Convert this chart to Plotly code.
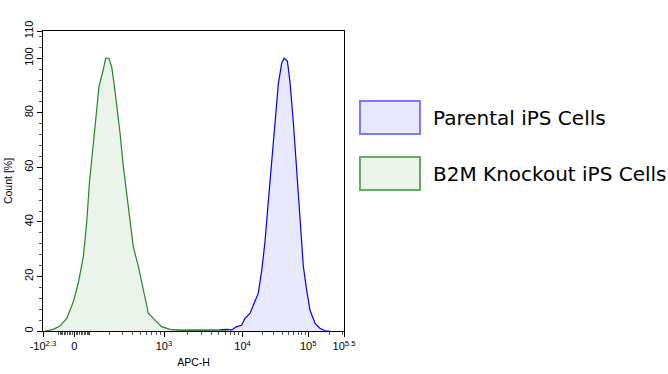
import numpy as np
import plotly.graph_objects as go

# Histogram data: display channel (0-1000 on biexponential APC-H scale) vs Count [%]
b2m_channel = [7, 34, 56, 79, 101, 117, 134, 145, 154, 162, 169, 178, 186, 200, 208, 219, 228,
               236, 247, 256, 267, 276, 287, 300, 317, 328, 339, 350, 372, 394, 422, 455, 522, 611]
b2m_count = [0, 0.6, 1.8, 4.6, 10.8, 17.5, 27.3, 39.5, 54.1, 62.7, 72.5, 81, 89.6, 95.7, 100, 100, 96.9,
             90.8, 81, 72.5, 60.2, 51.7, 41.9, 30.9, 23.6, 17.5, 11.4, 6.5, 4.0, 1.6, 0.6, 0.25, 0.1, 0]

parental_channel = [199, 355, 522, 588, 610, 627, 643, 660, 671, 688, 699, 715, 727, 737, 748, 760,
                    771, 782, 793, 801, 812, 821, 832, 843, 854, 865, 876, 887, 904, 920, 937, 953]
parental_count = [0.1, 0.2, 0.2, 0.4, 0.6, 0.4, 1.6, 2.1, 4.6, 6.5, 9.5, 13.8, 22.4, 32.2, 46.8, 62.7,
                  78.6, 90.8, 98.2, 100, 99, 90.8, 76.2, 57.8, 38.2, 23.6, 15, 7.7, 2.8, 1, 0.1, 0]

series_names = ["Parental iPS Cells", "B2M Knockout iPS Cells"]

# Biexponential axis definition: intensity anchors -> display channel
scale_values = [-10 ** 2.3, -100, 0, 100, 1000, 1e4, 1e5, 10 ** 5.5]
scale_channels = [0, 53, 103.7, 156, 402, 663, 881, 1000]

major_values = [-10 ** 2.3, 0, 1e3, 1e4, 1e5, 10 ** 5.5]
major_labels = ["-10<sup>2.3</sup>", "0", "10<sup>3</sup>", "10<sup>4</sup>", "10<sup>5</sup>", "10<sup>5.5</sup>"]
minor_values = ([-100 + 10 * i for i in range(10)] + [10 * i for i in range(1, 11)]
                + [k * 100 for k in range(2, 10)] + [k * 1000 for k in range(2, 10)]
                + [k * 10000 for k in range(2, 10)] + [2e5, 3e5])

y_ticks = [0, 20, 40, 60, 80, 100, 110]


def to_channel(v):
    u = np.arcsinh(np.asarray(v, dtype=float) / 100.0)
    ua = np.arcsinh(np.asarray(scale_values) / 100.0)
    return np.interp(u, ua, scale_channels)


blue_line = "#0000FF"
blue_fill = "rgba(232,232,255,1)"
green_line = "#1E8C1E"
green_fill = "rgba(234,244,234,1)"

fig = go.Figure()
fig.add_trace(go.Scatter(x=parental_channel, y=parental_count, mode="lines", fill="tozeroy",
                         line=dict(color=blue_line, width=1.2), fillcolor=blue_fill,
                         name=series_names[0], showlegend=False))
fig.add_trace(go.Scatter(x=b2m_channel, y=b2m_count, mode="lines", fill="tozeroy",
                         line=dict(color=green_line, width=1.2), fillcolor=green_fill,
                         name=series_names[1], showlegend=False))

tick_font = dict(family="Liberation Sans, Arial, sans-serif", size=11, color="black")
title_font = dict(family="Liberation Sans, Arial, sans-serif", size=10.5, color="black")

fig.update_xaxes(range=[0, 1000], tickmode="array", tickvals=list(to_channel(major_values)),
                 ticktext=major_labels, ticks="outside", ticklen=5, tickcolor="black",
                 showline=True, linecolor="black", linewidth=1, mirror=True, showgrid=False,
                 zeroline=False, tickfont=tick_font, automargin=False,
                 minor=dict(tickvals=list(to_channel(minor_values)), ticks="outside", ticklen=3,
                            tickcolor="#555555", showgrid=False),
                 title=dict(text="APC-H", font=title_font, standoff=7))
fig.update_yaxes(range=[0, 110], tickmode="array", tickvals=y_ticks, ticks="outside", ticklen=5,
                 tickcolor="black", tickangle=-90, showline=True, linecolor="black", linewidth=1,
                 mirror=True, showgrid=False, zeroline=False, tickfont=tick_font, automargin=False,
                 minor=dict(dtick=4, tick0=0, ticks="outside", ticklen=3, tickcolor="#555555",
                            showgrid=False),
                 title=dict(text="Count [%]", font=title_font, standoff=7))

# Legend drawn as boxes and labels beside the plot
legend_items = [(series_names[0], "#7B7BFF", blue_fill), (series_names[1], "#5FAF5F", green_fill)]
W, H = 668, 374
L, R, T, B = 43, 324, 31, 43
pw, ph = W - L - R, H - T - B
for i, (name, edge, fill) in enumerate(legend_items):
    top_px = 101 + i * 56
    x0 = (360 - L) / pw
    x1 = (420 - L) / pw
    y0 = 1 - (top_px + 33 - T) / ph
    y1 = 1 - (top_px - T) / ph
    fig.add_shape(type="rect", xref="paper", yref="paper", x0=x0, x1=x1, y0=y0, y1=y1,
                  line=dict(color=edge, width=2), fillcolor=fill)
    fig.add_annotation(xref="paper", yref="paper", x=(431 - L) / pw, y=(y0 + y1) / 2,
                       text=name, showarrow=False, xanchor="left", yanchor="middle",
                       font=dict(family="DejaVu Sans, Verdana, sans-serif", size=20, color="black"))

fig.update_layout(width=W, height=H, margin=dict(l=L, r=R, t=T, b=B),
                  plot_bgcolor="white", paper_bgcolor="white")

fig.write_html("out.html")
